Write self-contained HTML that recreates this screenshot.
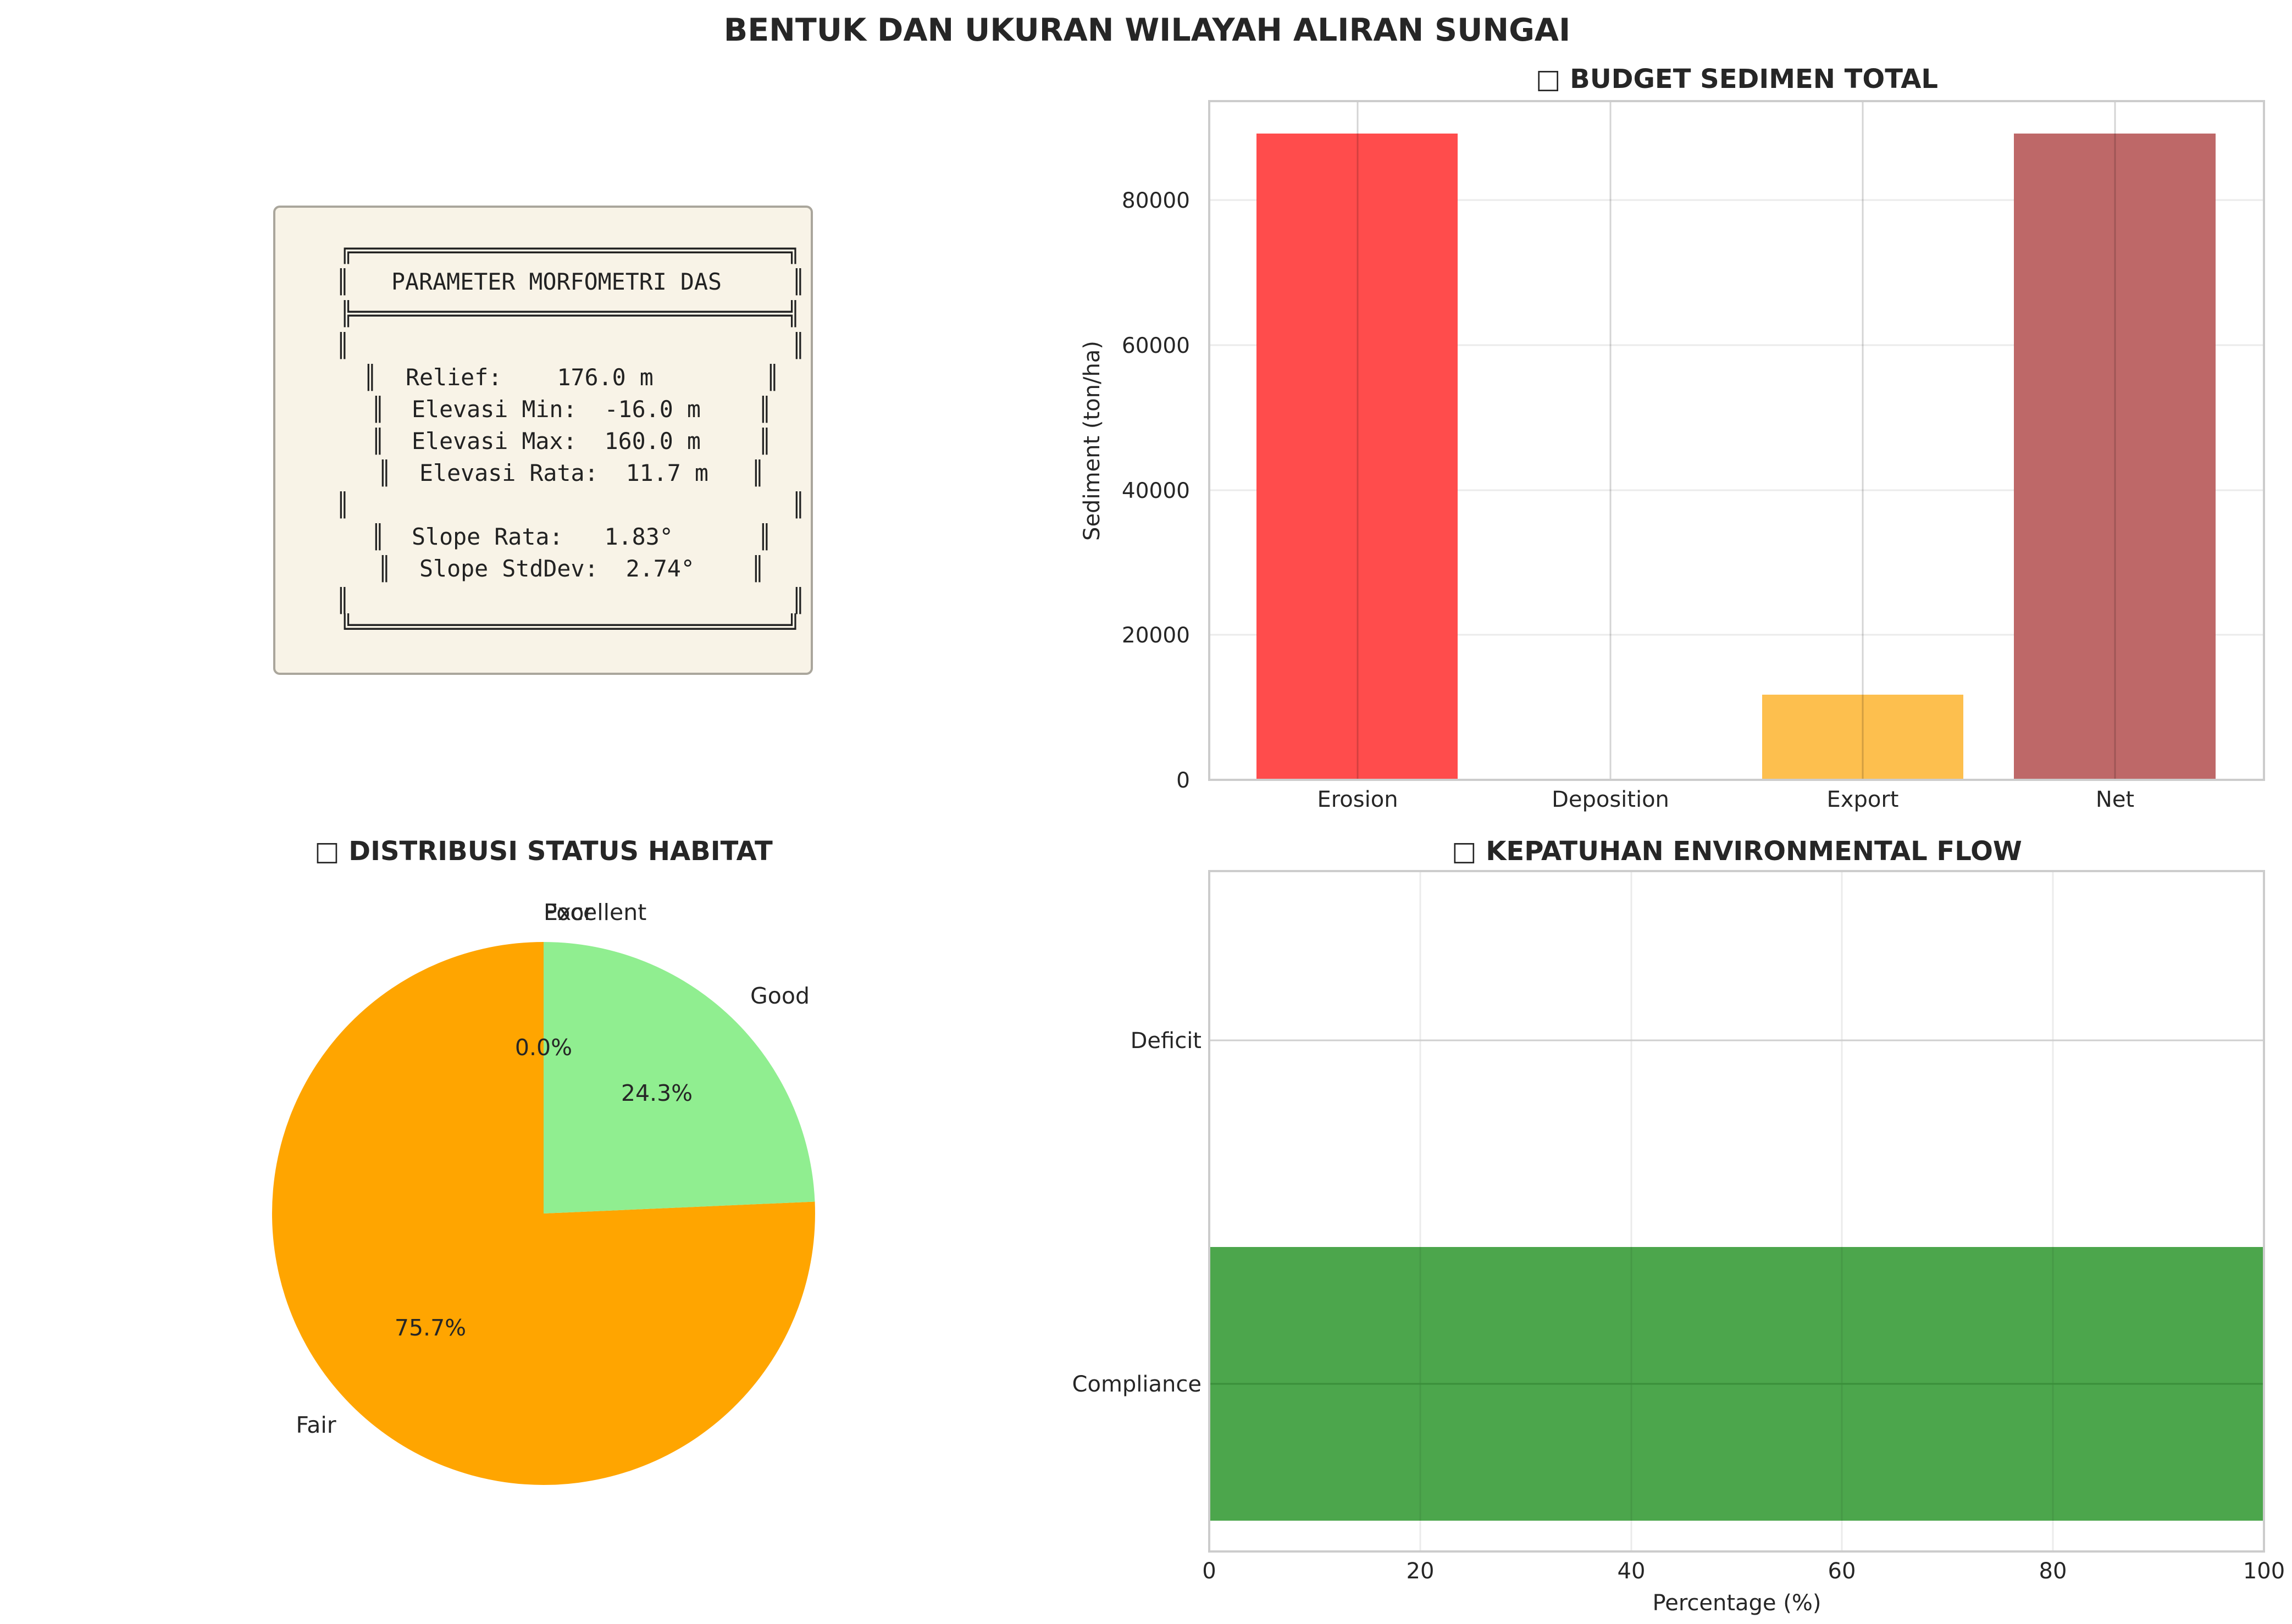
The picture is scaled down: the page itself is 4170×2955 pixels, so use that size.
<!DOCTYPE html>
<html><head><meta charset="utf-8"><style>html,body{margin:0;padding:0;background:#fff}svg{display:block}</style></head>
<body>
<svg width="4170" height="2955" viewBox="0 0 4170 2955" xmlns="http://www.w3.org/2000/svg" font-family="'DejaVu Sans','Liberation Sans',sans-serif" fill="#262626">
<rect width="4170" height="2955" fill="#fff"/>
<text x="2087" y="74" font-size="57" font-weight="bold" text-anchor="middle">BENTUK DAN UKURAN WILAYAH ALIRAN SUNGAI</text>

<rect x="499" y="376" width="978" height="850" rx="10" fill="#f8f3e7" stroke="#aaa69c" stroke-width="4"/>
<g font-family="'DejaVu Sans Mono','Liberation Mono',monospace" font-size="41.6" fill="#222">
<text x="618" y="470" textLength="838" lengthAdjust="spacingAndGlyphs">╔════════════════════════════════╗</text>
<text x="611" y="527">║</text><text x="712" y="527">PARAMETER MORFOMETRI DAS</text><text x="1440" y="527">║</text>
<text x="618" y="585" textLength="838" lengthAdjust="spacingAndGlyphs">╠════════════════════════════════╣</text>
<text x="611" y="643">║</text><text x="1440" y="643">║</text>
<text x="661" y="701">║</text><text x="738" y="701" xml:space="preserve">Relief:    176.0 m</text><text x="1393" y="701">║</text>
<text x="675" y="759">║</text><text x="749" y="759" xml:space="preserve">Elevasi Min:  -16.0 m</text><text x="1379" y="759">║</text>
<text x="675" y="817">║</text><text x="749" y="817" xml:space="preserve">Elevasi Max:  160.0 m</text><text x="1379" y="817">║</text>
<text x="687" y="875">║</text><text x="763" y="875" xml:space="preserve">Elevasi Rata:  11.7 m</text><text x="1366" y="875">║</text>
<text x="611" y="933">║</text><text x="1440" y="933">║</text>
<text x="675" y="991">║</text><text x="749" y="991" xml:space="preserve">Slope Rata:   1.83°</text><text x="1379" y="991">║</text>
<text x="687" y="1049">║</text><text x="763" y="1049" xml:space="preserve">Slope StdDev:  2.74°</text><text x="1366" y="1049">║</text>
<text x="611" y="1107">║</text><text x="1440" y="1107">║</text>
<text x="618" y="1155" textLength="838" lengthAdjust="spacingAndGlyphs">╚════════════════════════════════╝</text>
</g>

<text x="3160" y="160" font-size="48" font-weight="bold" text-anchor="middle">□ BUDGET SEDIMEN TOTAL</text>
<g stroke="#ebebeb" stroke-width="3">
<line x1="2200" x2="4119" y1="1155" y2="1155"/><line x1="2200" x2="4119" y1="892" y2="892"/>
<line x1="2200" x2="4119" y1="628" y2="628"/><line x1="2200" x2="4119" y1="364" y2="364"/>
</g>
<rect x="2286" y="243" width="366" height="1176" fill="#ff4c4c"/>
<rect x="3206" y="1264" width="366" height="155" fill="#fdbf4e"/>
<rect x="3664" y="243" width="367" height="1176" fill="#be6868"/>
<g stroke="rgba(0,0,0,0.17)" stroke-width="3">
<line x1="2470" x2="2470" y1="184" y2="1419"/><line x1="2930" x2="2930" y1="184" y2="1419"/>
<line x1="3389" x2="3389" y1="184" y2="1419"/><line x1="3848" x2="3848" y1="184" y2="1419"/>
</g>
<rect x="2200" y="184" width="1919" height="1235" fill="none" stroke="#cccccc" stroke-width="4"/>
<g font-size="39" text-anchor="end">
<text x="2165" y="1433">0</text><text x="2165" y="1169">20000</text><text x="2165" y="906">40000</text><text x="2165" y="642">60000</text><text x="2165" y="378">80000</text>
</g>
<g font-size="40" text-anchor="middle">
<text x="2470" y="1468">Erosion</text><text x="2930" y="1468">Deposition</text><text x="3389" y="1468">Export</text><text x="3848" y="1468">Net</text>
</g>
<text transform="translate(2000,802) rotate(-90)" font-size="40" text-anchor="middle">Sediment (ton/ha)</text>

<text x="989" y="1565" font-size="48" font-weight="bold" text-anchor="middle">□ DISTRIBUSI STATUS HABITAT</text>
<path d="M989,2208 L989,1714 A494,494 0 1,0 1482.5,2186.5 Z" fill="#ffa500"/>
<path d="M989,2208 L1482.5,2186.5 A494,494 0 0,0 989,1714 Z" fill="#90ee90"/>
<g font-size="41" text-anchor="middle">
<text x="989" y="1674" text-anchor="start">Excellent</text><text x="989" y="1674" text-anchor="start">Poor</text>
<text x="1419" y="1826">Good</text><text x="575" y="2607">Fair</text>
<text x="989" y="1920">0.0%</text><text x="1195" y="2003">24.3%</text><text x="783" y="2430">75.7%</text>
</g>

<text x="3160" y="1565" font-size="48" font-weight="bold" text-anchor="middle">□ KEPATUHAN ENVIRONMENTAL FLOW</text>
<g stroke="#ebebeb" stroke-width="3">
<line x1="2584" x2="2584" y1="1585" y2="2823"/><line x1="2968" x2="2968" y1="1585" y2="2823"/>
<line x1="3351" x2="3351" y1="1585" y2="2823"/><line x1="3735" x2="3735" y1="1585" y2="2823"/>
</g>
<line x1="2200" x2="4119" y1="1893" y2="1893" stroke="#cfcfcf" stroke-width="3"/>
<rect x="2200" y="2269" width="1919" height="498" fill="#4ca64c"/>
<g stroke="rgba(0,0,0,0.08)" stroke-width="3">
<line x1="2584" x2="2584" y1="2269" y2="2767"/><line x1="2968" x2="2968" y1="2269" y2="2767"/>
<line x1="3351" x2="3351" y1="2269" y2="2767"/><line x1="3735" x2="3735" y1="2269" y2="2767"/>
</g>
<line x1="2200" x2="4119" y1="2518" y2="2518" stroke="#3a8f3a" stroke-width="3"/>
<rect x="2200" y="1585" width="1919" height="1238" fill="none" stroke="#cccccc" stroke-width="4"/>
<g font-size="40" text-anchor="end">
<text x="2186" y="1907">Deficit</text><text x="2186" y="2532">Compliance</text>
</g>
<g font-size="40" text-anchor="middle">
<text x="2200" y="2872">0</text><text x="2584" y="2872">20</text><text x="2968" y="2872">40</text><text x="3351" y="2872">60</text><text x="3735" y="2872">80</text><text x="4119" y="2872">100</text>
</g>
<text x="3160" y="2930" font-size="40" text-anchor="middle">Percentage (%)</text>
</svg>
</body></html>
